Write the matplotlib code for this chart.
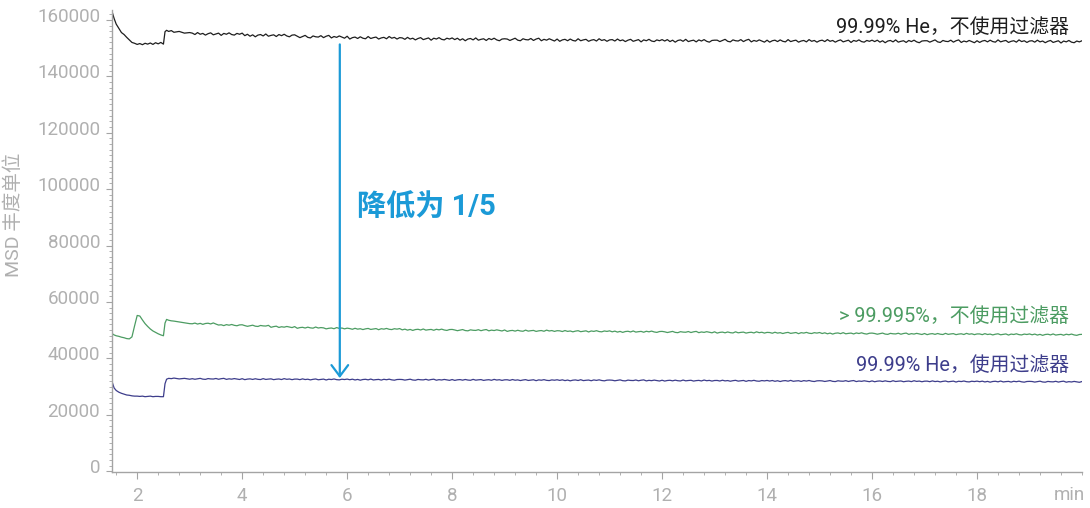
import matplotlib
matplotlib.use("Agg")
import matplotlib.pyplot as plt
import matplotlib.transforms as mtransforms
from matplotlib.ticker import FixedLocator, MultipleLocator

time_min = [1.52, 1.56, 1.60, 1.65, 1.70, 1.75, 1.80, 1.85, 1.90, 1.95, 2.00, 2.05, 2.10, 2.15, 2.20,
            2.25, 2.30, 2.35, 2.40, 2.45, 2.50, 2.53, 2.56, 2.60, 2.65, 2.70, 2.80, 2.90, 3.00,
            3.05, 3.1, 3.15, 3.2, 3.25, 3.3, 3.35, 3.4, 3.45, 3.5, 3.55, 3.6, 3.65, 3.7, 3.75, 3.8, 3.85, 3.9, 3.95, 4.0,
            4.05, 4.1, 4.15, 4.2, 4.25, 4.3, 4.35, 4.4, 4.45, 4.5, 4.55, 4.6, 4.65, 4.7, 4.75, 4.8, 4.85, 4.9, 4.95, 5.0,
            5.05, 5.1, 5.15, 5.2, 5.25, 5.3, 5.35, 5.4, 5.45, 5.5, 5.55, 5.6, 5.65, 5.7, 5.75, 5.8, 5.85, 5.9, 5.95, 6.0,
            6.05, 6.1, 6.15, 6.2, 6.25, 6.3, 6.35, 6.4, 6.45, 6.5, 6.55, 6.6, 6.65, 6.7, 6.75, 6.8, 6.85, 6.9, 6.95, 7.0,
            7.05, 7.1, 7.15, 7.2, 7.25, 7.3, 7.35, 7.4, 7.45, 7.5, 7.55, 7.6, 7.65, 7.7, 7.75, 7.8, 7.85, 7.9, 7.95, 8.0,
            8.05, 8.1, 8.15, 8.2, 8.25, 8.3, 8.35, 8.4, 8.45, 8.5, 8.55, 8.6, 8.65, 8.7, 8.75, 8.8, 8.85, 8.9, 8.95, 9.0,
            9.05, 9.1, 9.15, 9.2, 9.25, 9.3, 9.35, 9.4, 9.45, 9.5, 9.55, 9.6, 9.65, 9.7, 9.75, 9.8, 9.85, 9.9, 9.95, 10.0,
            10.05, 10.1, 10.15, 10.2, 10.25, 10.3, 10.35, 10.4, 10.45, 10.5, 10.55, 10.6, 10.65, 10.7, 10.75, 10.8, 10.85, 10.9, 10.95, 11.0,
            11.05, 11.1, 11.15, 11.2, 11.25, 11.3, 11.35, 11.4, 11.45, 11.5, 11.55, 11.6, 11.65, 11.7, 11.75, 11.8, 11.85, 11.9, 11.95, 12.0,
            12.05, 12.1, 12.15, 12.2, 12.25, 12.3, 12.35, 12.4, 12.45, 12.5, 12.55, 12.6, 12.65, 12.7, 12.75, 12.8, 12.85, 12.9, 12.95, 13.0,
            13.05, 13.1, 13.15, 13.2, 13.25, 13.3, 13.35, 13.4, 13.45, 13.5, 13.55, 13.6, 13.65, 13.7, 13.75, 13.8, 13.85, 13.9, 13.95, 14.0,
            14.05, 14.1, 14.15, 14.2, 14.25, 14.3, 14.35, 14.4, 14.45, 14.5, 14.55, 14.6, 14.65, 14.7, 14.75, 14.8, 14.85, 14.9, 14.95, 15.0,
            15.05, 15.1, 15.15, 15.2, 15.25, 15.3, 15.35, 15.4, 15.45, 15.5, 15.55, 15.6, 15.65, 15.7, 15.75, 15.8, 15.85, 15.9, 15.95, 16.0,
            16.05, 16.1, 16.15, 16.2, 16.25, 16.3, 16.35, 16.4, 16.45, 16.5, 16.55, 16.6, 16.65, 16.7, 16.75, 16.8, 16.85, 16.9, 16.95, 17.0,
            17.05, 17.1, 17.15, 17.2, 17.25, 17.3, 17.35, 17.4, 17.45, 17.5, 17.55, 17.6, 17.65, 17.7, 17.75, 17.8, 17.85, 17.9, 17.95, 18.0,
            18.05, 18.1, 18.15, 18.2, 18.25, 18.3, 18.35, 18.4, 18.45, 18.5, 18.55, 18.6, 18.65, 18.7, 18.75, 18.8, 18.85, 18.9, 18.95, 19.0,
            19.05, 19.1, 19.15, 19.2, 19.25, 19.3, 19.35, 19.4, 19.45, 19.5, 19.55, 19.6, 19.65, 19.7, 19.75, 19.8, 19.85, 19.9, 19.95, 20.0]

he_no_filter = [163000, 160500, 158500, 157000, 155500, 154800, 153800, 152900, 152000, 151700,
                151300, 151600, 151200, 151700, 151400, 151800, 151300, 151900, 151500, 152000,
                151400, 155800, 156300, 155900, 156200, 155600, 155900, 155300, 155500,
                155300, 154800, 155500, 154900, 155200, 154600, 155100, 155400, 154700, 155000, 155300, 154500, 155200, 154900, 155400, 154800, 154600, 155200, 154900, 155300,
                154400, 154900, 154200, 154700, 154000, 154600, 154800, 154300, 155000, 154200, 154500, 154700, 154100, 154800, 154400, 154900, 154300, 154000, 154600, 154700,
                154200, 153700, 154100, 154500, 153800, 153600, 154300, 154000, 153900, 154400, 153700, 154200, 154500, 153600, 154100, 153800, 154300, 153900, 153500, 154200,
                153200, 153700, 153900, 153400, 154000, 153500, 153300, 154100, 153400, 153700, 153900, 153200, 153600, 153800, 153300, 154100, 153500, 153800, 153200, 153700,
                153600, 153100, 153800, 153200, 153500, 152900, 153400, 153700, 153000, 153300, 153600, 152800, 153500, 153200, 153700, 153100, 152900, 153500, 153200, 153600,
                153000, 153500, 152800, 153300, 152600, 153200, 153400, 152900, 153600, 152800, 153100, 153300, 152700, 153400, 153000, 153500, 152900, 152600, 153200, 153300,
                153200, 152700, 153100, 153500, 152800, 152600, 153300, 153000, 152900, 153400, 152700, 153200, 153500, 152600, 153100, 152800, 153300, 152900, 152500, 153200,
                152400, 152900, 153100, 152600, 153200, 152700, 152500, 153300, 152600, 152900, 153100, 152400, 152800, 153000, 152500, 153300, 152700, 153000, 152400, 152900,
                153000, 152500, 153200, 152600, 152900, 152300, 152800, 153100, 152400, 152700, 153000, 152200, 152900, 152600, 153100, 152500, 152300, 152900, 152600, 153000,
                152500, 153000, 152300, 152800, 152100, 152700, 152900, 152400, 153100, 152300, 152600, 152800, 152200, 152900, 152500, 153000, 152400, 152100, 152700, 152800,
                152800, 152300, 152700, 153100, 152400, 152200, 152900, 152600, 152500, 153000, 152300, 152800, 153100, 152200, 152700, 152400, 152900, 152500, 152100, 152800,
                152100, 152600, 152800, 152300, 152900, 152400, 152200, 153000, 152300, 152600, 152800, 152100, 152500, 152700, 152200, 153000, 152400, 152700, 152100, 152600,
                152800, 152300, 153000, 152400, 152700, 152100, 152600, 152900, 152200, 152500, 152800, 152000, 152700, 152400, 152900, 152300, 152100, 152700, 152400, 152800,
                152300, 152800, 152100, 152600, 151900, 152500, 152700, 152200, 152900, 152100, 152400, 152600, 152000, 152700, 152300, 152800, 152200, 151900, 152500, 152600,
                152600, 152100, 152500, 152900, 152200, 152000, 152700, 152400, 152300, 152800, 152100, 152600, 152900, 152000, 152500, 152200, 152700, 152300, 151900, 152600,
                152000, 152500, 152700, 152200, 152800, 152300, 152100, 152900, 152200, 152500, 152700, 152000, 152400, 152600, 152100, 152900, 152300, 152600, 152000, 152500,
                152600, 152100, 152800, 152200, 152500, 151900, 152400, 152700, 152000, 152300, 152600, 151800, 152500, 152200, 152700, 152100, 151900, 152500, 152200, 152600]

high_purity_no_filter = [48800, 48300, 48000, 47800, 47500, 47300, 47000, 46900, 47600, 51500,
                         55200, 55000, 53600, 52300, 51300, 50400, 49700, 49200, 48700, 48300,
                         48000, 52500, 53800, 53500, 53300, 53200, 52900, 52600, 52300,
                         52250, 52500, 52150, 52400, 52050, 52350, 52450, 52200, 52550, 52150, 51800, 51900, 51600, 51950, 51750, 52000, 51700, 51550, 51850, 51900,
                         51600, 51350, 51550, 51750, 51400, 51300, 51650, 51500, 51450, 51700, 51000, 51250, 51400, 50950, 51200, 51050, 51300, 51100, 50900, 51250,
                         50650, 50900, 51000, 50750, 51050, 50800, 50700, 51100, 50750, 50900, 50800, 50450, 50650, 50750, 50500, 50900, 50600, 50750, 50450, 50700,
                         50550, 50300, 50650, 50350, 50500, 50200, 50450, 50600, 50250, 50400, 50550, 50150, 50500, 50350, 50600, 50300, 50200, 50500, 50350, 50550,
                         50100, 50350, 50000, 50250, 49900, 50200, 50300, 50050, 50400, 50000, 50150, 50250, 49950, 50300, 50100, 50350, 50050, 49900, 50200, 50250,
                         50050, 49800, 50000, 50200, 49850, 49750, 50100, 49950, 49900, 50150, 49800, 50050, 50200, 49750, 50000, 49850, 50100, 49900, 49700, 50050,
                         49550, 49800, 49900, 49650, 49950, 49700, 49600, 50000, 49650, 49800, 49900, 49550, 49750, 49850, 49600, 50000, 49700, 49850, 49550, 49800,
                         49750, 49500, 49850, 49550, 49700, 49400, 49650, 49800, 49450, 49600, 49750, 49350, 49700, 49550, 49800, 49500, 49400, 49700, 49550, 49750,
                         49400, 49650, 49300, 49550, 49200, 49500, 49600, 49350, 49700, 49300, 49450, 49550, 49250, 49600, 49400, 49650, 49350, 49200, 49500, 49550,
                         49400, 49150, 49350, 49550, 49200, 49100, 49450, 49300, 49250, 49500, 49150, 49400, 49550, 49100, 49350, 49200, 49450, 49250, 49050, 49400,
                         48950, 49200, 49300, 49050, 49350, 49100, 49000, 49400, 49050, 49200, 49300, 48950, 49150, 49250, 49000, 49400, 49100, 49250, 48950, 49200,
                         49150, 48900, 49250, 48950, 49100, 48800, 49050, 49200, 48850, 49000, 49150, 48750, 49100, 48950, 49200, 48900, 48800, 49100, 48950, 49150,
                         48800, 49050, 48700, 48950, 48600, 48900, 49000, 48750, 49100, 48700, 48850, 48950, 48650, 49000, 48800, 49050, 48750, 48600, 48900, 48950,
                         48800, 48550, 48750, 48950, 48600, 48500, 48850, 48700, 48650, 48900, 48550, 48800, 48950, 48500, 48750, 48600, 48850, 48650, 48450, 48800,
                         48400, 48650, 48750, 48500, 48800, 48550, 48450, 48850, 48500, 48650, 48750, 48400, 48600, 48700, 48450, 48850, 48550, 48700, 48400, 48650,
                         48650, 48400, 48750, 48450, 48600, 48300, 48550, 48700, 48350, 48500, 48650, 48250, 48600, 48450, 48700, 48400, 48300, 48600, 48450, 48650,
                         48350, 48600, 48250, 48500, 48150, 48450, 48550, 48300, 48650, 48250, 48400, 48500, 48200, 48550, 48350, 48600, 48300, 48150, 48450, 48500]

he_with_filter = [31800, 29500, 28600, 28000, 27600, 27300, 27000, 26900, 26700, 26600,
                  26600, 26500, 26600, 26400, 26500, 26600, 26400, 26500, 26500, 26400,
                  26400, 31000, 32600, 32900, 32800, 33000, 32700, 32900, 32600,
                  32780, 32580, 32740, 32900, 32620, 32540, 32820, 32700, 32660, 32860, 32580, 32780, 32900, 32540, 32740, 32620, 32820, 32660, 32500, 32780,
                  32440, 32640, 32720, 32520, 32760, 32560, 32480, 32800, 32520, 32640, 32720, 32440, 32600, 32680, 32480, 32800, 32560, 32680, 32440, 32640,
                  32640, 32440, 32720, 32480, 32600, 32360, 32560, 32680, 32400, 32520, 32640, 32320, 32600, 32480, 32680, 32440, 32360, 32600, 32480, 32640,
                  32410, 32610, 32330, 32530, 32250, 32490, 32570, 32370, 32650, 32330, 32450, 32530, 32290, 32570, 32410, 32610, 32370, 32250, 32490, 32530,
                  32480, 32280, 32440, 32600, 32320, 32240, 32520, 32400, 32360, 32560, 32280, 32480, 32600, 32240, 32440, 32320, 32520, 32360, 32200, 32480,
                  32180, 32380, 32460, 32260, 32500, 32300, 32220, 32540, 32260, 32380, 32460, 32180, 32340, 32420, 32220, 32540, 32300, 32420, 32180, 32380,
                  32400, 32200, 32480, 32240, 32360, 32120, 32320, 32440, 32160, 32280, 32400, 32080, 32360, 32240, 32440, 32200, 32120, 32360, 32240, 32400,
                  32180, 32380, 32100, 32300, 32020, 32260, 32340, 32140, 32420, 32100, 32220, 32300, 32060, 32340, 32180, 32380, 32140, 32020, 32260, 32300,
                  32240, 32040, 32200, 32360, 32080, 32000, 32280, 32160, 32120, 32320, 32040, 32240, 32360, 32000, 32200, 32080, 32280, 32120, 31960, 32240,
                  31940, 32140, 32220, 32020, 32260, 32060, 31980, 32300, 32020, 32140, 32220, 31940, 32100, 32180, 31980, 32300, 32060, 32180, 31940, 32140,
                  32160, 31960, 32240, 32000, 32120, 31880, 32080, 32200, 31920, 32040, 32160, 31840, 32120, 32000, 32200, 31960, 31880, 32120, 32000, 32160,
                  31940, 32140, 31860, 32060, 31780, 32020, 32100, 31900, 32180, 31860, 31980, 32060, 31820, 32100, 31940, 32140, 31900, 31780, 32020, 32060,
                  32000, 31800, 31960, 32120, 31840, 31760, 32040, 31920, 31880, 32080, 31800, 32000, 32120, 31760, 31960, 31840, 32040, 31880, 31720, 32000,
                  31700, 31900, 31980, 31780, 32020, 31820, 31740, 32060, 31780, 31900, 31980, 31700, 31860, 31940, 31740, 32060, 31820, 31940, 31700, 31900,
                  31920, 31720, 32000, 31760, 31880, 31640, 31840, 31960, 31680, 31800, 31920, 31600, 31880, 31760, 31960, 31720, 31640, 31880, 31760, 31920,
                  31710, 31910, 31630, 31830, 31550, 31790, 31870, 31670, 31950, 31630, 31750, 31830, 31590, 31870, 31710, 31910, 31670, 31550, 31790, 31830,
                  31780, 31580, 31740, 31900, 31620, 31540, 31820, 31700, 31660, 31860, 31580, 31780, 31900, 31540, 31740, 31620, 31820, 31660, 31500, 31780]

series_labels = ["99.99% He，不使用过滤器", "> 99.995%，不使用过滤器", "99.99% He，使用过滤器"]
series_label_y = [154000, 51400, 34100]
series_colors = ["#1e1e1e", "#4c9c62", "#3d3d8b"]
x_ticks = [2, 4, 6, 8, 10, 12, 14, 16, 18]
y_ticks = [0, 20000, 40000, 60000, 80000, 100000, 120000, 140000, 160000]
arrow_x = 5.86
arrow_from = 151300
arrow_to = 33000
arrow_text = "降低为 1/5"
y_label = "MSD 丰度单位"
x_unit = "min"

cjk = ["Roboto", "Noto Sans CJK SC", "DejaVu Sans"]
plt.rcParams['font.family'] = cjk

fig = plt.figure(figsize=(10.9, 5.08), dpi=100)
ax = fig.add_axes([112 / 1090, 1 - 472 / 508, 970 / 1090, 462 / 508])

for vals, col in zip([he_no_filter, high_purity_no_filter, he_with_filter], series_colors):
    ax.plot(time_min, vals, color=col, lw=0.9)

ax.set_xlim(1.52, 20.0)
ax.set_ylim(-300, 163500)

axis_gray = "#a4a4a4"
label_gray = "#b0b0b0"
for s in ["top", "right"]:
    ax.spines[s].set_visible(False)
for s in ["left", "bottom"]:
    ax.spines[s].set_color(axis_gray)
    ax.spines[s].set_linewidth(1.0)

ax.xaxis.set_major_locator(FixedLocator(x_ticks))
ax.xaxis.set_minor_locator(MultipleLocator(0.4))
ax.yaxis.set_major_locator(FixedLocator(y_ticks))
ax.yaxis.set_minor_locator(MultipleLocator(2000))
ax.set_xticklabels([str(v) for v in x_ticks])
ax.set_yticklabels([str(v) for v in y_ticks])
ax.tick_params(axis='both', which='major', colors=axis_gray, labelcolor=label_gray,
               labelsize=13.5, direction='out', width=0.8)
ax.tick_params(axis='both', which='minor', colors=axis_gray, direction='out', width=0.6)
ax.tick_params(axis='y', which='major', length=4.5, pad=4)
ax.tick_params(axis='y', which='minor', length=2.2)
ax.tick_params(axis='x', which='major', length=5, pad=6)
ax.tick_params(axis='x', which='minor', length=2.5)

up = mtransforms.ScaledTranslation(0, 5 / 100, fig.dpi_scale_trans)
for t in ax.yaxis.get_major_ticks():
    t.label1.set_transform(t.label1.get_transform() + up)

ax.set_ylabel(y_label, color=label_gray, fontsize=14)
ax.yaxis.set_label_coords(-0.092, 0.556)

ax.text(1.003, -0.05, x_unit, transform=ax.transAxes, ha='right', va='center',
        color=label_gray, fontsize=13.5)

for lab, ly, col in zip(series_labels, series_label_y, series_colors):
    ax.text(19.75, ly, lab, ha='right', va='bottom', color=col, fontsize=14.3)

arrow_col = "#1b9ad7"
ax.annotate("", xy=(arrow_x, arrow_to), xytext=(arrow_x, arrow_from),
            arrowprops=dict(arrowstyle='->,head_length=0.4,head_width=0.3', color=arrow_col,
                            lw=1.6, mutation_scale=20, shrinkA=0, shrinkB=0))
ax.text(arrow_x + 0.32, 93300, arrow_text, ha='left', va='center', color=arrow_col,
        fontsize=21, fontweight='bold')

fig.savefig("out.png", dpi=100)
